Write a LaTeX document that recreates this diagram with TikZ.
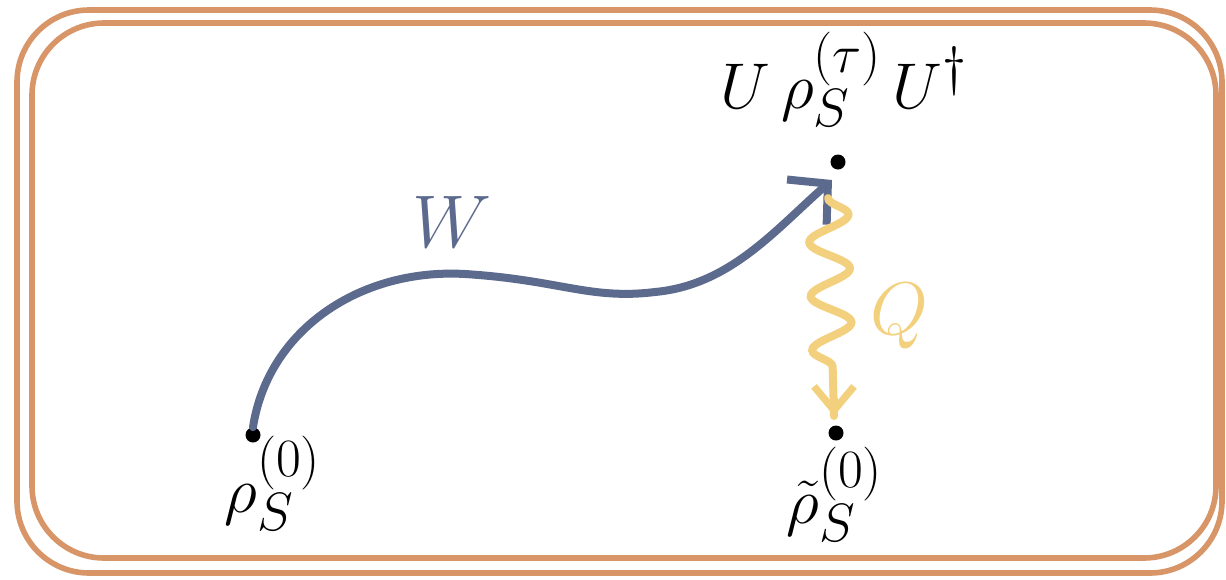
\documentclass[tikz,border=0pt]{standalone}
\usepackage{tikz}
\usetikzlibrary{arrows.meta, decorations.pathmorphing}

\definecolor{boxbrown}{RGB}{216,150,104}
\definecolor{workblue}{RGB}{92,106,142}
\definecolor{heatyellow}{RGB}{242,208,125}

\begin{document}
\begin{tikzpicture}[
  x=0.5pt, y=-0.5pt,
  font=\fontsize{24.88}{30}\selectfont,
  frame/.style={draw=boxbrown, line width=2.8pt, rounded corners=36pt},
  state/.style={circle, fill=black, minimum size=7.5pt, inner sep=0pt},
  lbl/.style={inner sep=0pt, anchor=base west, scale=1.3},
  big/.style={scale=1.5},
  work/.style={workblue, line width=4pt, line cap=round,
               -{Straight Barb[length=14pt, width=30pt, line width=4pt]}},
  heat/.style={heatyellow, line width=4pt, line cap=round,
               decorate, decoration={snake, amplitude=10pt, segment length=27pt,
                                     post length=14pt}},
]
\useasboundingbox (0,0) rectangle (1226,579);

% --- hand-drawn double frame ---
\draw[frame] (17,10) rectangle (1222,573);
\draw[frame] (32,23) rectangle (1216,558);

% --- states ---
\node[state] (d0)   at (253,435) {};
\node[state] (dtau) at (838,162) {};
\node[state] (dtil) at (836,433) {};

\node[lbl] (rho0)   at (224,512) {$\rho_S^{(0)}$};
\node[lbl] (rhotau) at (720,108) {$U\,\rho_S^{(\tau)}\,U^\dagger$};
\node[lbl] (rhotil) at (786,523) {$\tilde\rho_S^{(0)}$};

% --- work: unitary drive ---
\coordinate (wend) at (832,180);
\draw[work] (d0.north) .. controls (268,330) and (360,268) .. (465,274)
  .. controls (560,280) and (590,300) .. (655,292)
  .. controls (730,285) and (775,230) .. (wend);
\node[workblue, big] (wl) at (452,222) {$W$};

% --- heat: relaxation ---
\coordinate (qtop) at (828,198);
\coordinate (qbot) at (834,416);
\draw[heat] (qtop) -- (qbot);
\draw[heatyellow, line width=3.6pt, -{Straight Barb[length=12pt, width=20pt, line width=3.6pt]}]
  (834,398) -- (qbot);
\node[heatyellow, big] (ql) at (899,316) {$Q$};
\end{tikzpicture}
\end{document}
